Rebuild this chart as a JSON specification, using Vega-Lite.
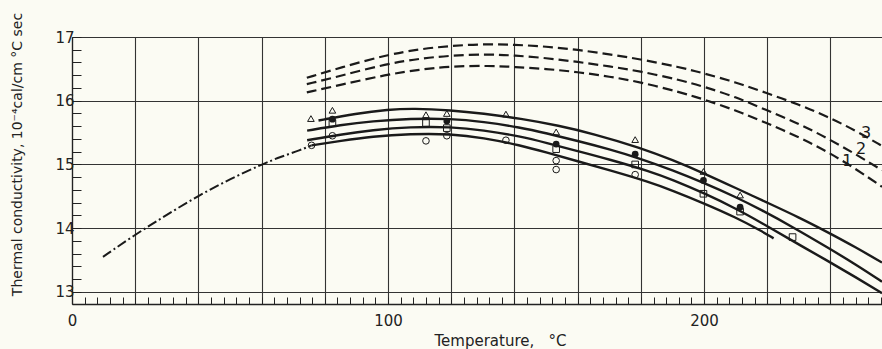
{
  "$schema": "https://vega.github.io/schema/vega-lite/v6.json",
  "width": 810,
  "height": 267,
  "autosize": {"type": "none"},
  "padding": {"left": 72, "top": 37, "right": 0, "bottom": 45},
  "background": "#fbfbf3",
  "config": {
    "view": {"stroke": null},
    "axis": {"labelFont": "DejaVu Sans", "titleFont": "DejaVu Sans", "labelColor": "#222", "titleColor": "#222", "titleFontWeight": "normal", "domainColor": "#222", "tickColor": "#222", "gridColor": "#333", "gridWidth": 1.1, "domainWidth": 1.3, "tickWidth": 1}
  },
  "datasets": {
    "lines": [
      {"s": "m", "x": 9.8, "y": 13.55}, {"s": "m", "x": 20, "y": 13.9}, {"s": "m", "x": 30, "y": 14.21}, {"s": "m", "x": 40, "y": 14.51}, {"s": "m", "x": 50, "y": 14.77}, {"s": "m", "x": 60, "y": 15.0}, {"s": "m", "x": 66, "y": 15.12}, {"s": "m", "x": 72, "y": 15.22}, {"s": "m", "x": 75.8, "y": 15.3},
      {"s": "c1", "x": 78, "y": 15.69}, {"s": "c1", "x": 90, "y": 15.8}, {"s": "c1", "x": 100, "y": 15.86}, {"s": "c1", "x": 108, "y": 15.88}, {"s": "c1", "x": 120, "y": 15.85}, {"s": "c1", "x": 130, "y": 15.8}, {"s": "c1", "x": 142, "y": 15.72}, {"s": "c1", "x": 154, "y": 15.61}, {"s": "c1", "x": 165, "y": 15.48}, {"s": "c1", "x": 180, "y": 15.26}, {"s": "c1", "x": 190, "y": 15.07}, {"s": "c1", "x": 200, "y": 14.86}, {"s": "c1", "x": 210, "y": 14.63}, {"s": "c1", "x": 220, "y": 14.4}, {"s": "c1", "x": 230, "y": 14.17}, {"s": "c1", "x": 239, "y": 13.94}, {"s": "c1", "x": 248, "y": 13.7}, {"s": "c1", "x": 256.3, "y": 13.46},
      {"s": "c2", "x": 74.4, "y": 15.53}, {"s": "c2", "x": 85, "y": 15.62}, {"s": "c2", "x": 95, "y": 15.68}, {"s": "c2", "x": 107, "y": 15.72}, {"s": "c2", "x": 120, "y": 15.72}, {"s": "c2", "x": 130, "y": 15.67}, {"s": "c2", "x": 142, "y": 15.58}, {"s": "c2", "x": 150, "y": 15.49}, {"s": "c2", "x": 160, "y": 15.37}, {"s": "c2", "x": 170, "y": 15.24}, {"s": "c2", "x": 180, "y": 15.09}, {"s": "c2", "x": 190, "y": 14.91}, {"s": "c2", "x": 200, "y": 14.71}, {"s": "c2", "x": 210, "y": 14.49}, {"s": "c2", "x": 218, "y": 14.29}, {"s": "c2", "x": 228, "y": 14.02}, {"s": "c2", "x": 239, "y": 13.7}, {"s": "c2", "x": 248, "y": 13.43}, {"s": "c2", "x": 256.3, "y": 13.16},
      {"s": "c3", "x": 74.4, "y": 15.38}, {"s": "c3", "x": 85, "y": 15.47}, {"s": "c3", "x": 95, "y": 15.54}, {"s": "c3", "x": 107, "y": 15.59}, {"s": "c3", "x": 120, "y": 15.59}, {"s": "c3", "x": 130, "y": 15.54}, {"s": "c3", "x": 142, "y": 15.44}, {"s": "c3", "x": 150, "y": 15.34}, {"s": "c3", "x": 160, "y": 15.21}, {"s": "c3", "x": 170, "y": 15.08}, {"s": "c3", "x": 183, "y": 14.89}, {"s": "c3", "x": 190, "y": 14.76}, {"s": "c3", "x": 200, "y": 14.55}, {"s": "c3", "x": 210, "y": 14.31}, {"s": "c3", "x": 218, "y": 14.09}, {"s": "c3", "x": 228, "y": 13.8}, {"s": "c3", "x": 239, "y": 13.49}, {"s": "c3", "x": 248, "y": 13.23}, {"s": "c3", "x": 256.3, "y": 12.98},
      {"s": "c4", "x": 75.8, "y": 15.3}, {"s": "c4", "x": 85, "y": 15.37}, {"s": "c4", "x": 95, "y": 15.44}, {"s": "c4", "x": 107, "y": 15.48}, {"s": "c4", "x": 120, "y": 15.48}, {"s": "c4", "x": 130, "y": 15.42}, {"s": "c4", "x": 142, "y": 15.3}, {"s": "c4", "x": 150, "y": 15.19}, {"s": "c4", "x": 160, "y": 15.05}, {"s": "c4", "x": 170, "y": 14.91}, {"s": "c4", "x": 183, "y": 14.72}, {"s": "c4", "x": 190, "y": 14.59}, {"s": "c4", "x": 200, "y": 14.39}, {"s": "c4", "x": 210, "y": 14.17}, {"s": "c4", "x": 218, "y": 13.96}, {"s": "c4", "x": 222, "y": 13.84},
      {"s": "d3", "x": 74.3, "y": 16.36}, {"s": "d3", "x": 85, "y": 16.52}, {"s": "d3", "x": 99.6, "y": 16.72}, {"s": "d3", "x": 110, "y": 16.81}, {"s": "d3", "x": 119.6, "y": 16.86}, {"s": "d3", "x": 130, "y": 16.89}, {"s": "d3", "x": 140, "y": 16.88}, {"s": "d3", "x": 150, "y": 16.85}, {"s": "d3", "x": 160, "y": 16.8}, {"s": "d3", "x": 170, "y": 16.73}, {"s": "d3", "x": 180, "y": 16.65}, {"s": "d3", "x": 192, "y": 16.53}, {"s": "d3", "x": 200, "y": 16.43}, {"s": "d3", "x": 210, "y": 16.29}, {"s": "d3", "x": 219.3, "y": 16.13}, {"s": "d3", "x": 230, "y": 15.94}, {"s": "d3", "x": 239.1, "y": 15.75}, {"s": "d3", "x": 248, "y": 15.53}, {"s": "d3", "x": 256.3, "y": 15.29},
      {"s": "d2", "x": 74.3, "y": 16.26}, {"s": "d2", "x": 85, "y": 16.39}, {"s": "d2", "x": 99.6, "y": 16.58}, {"s": "d2", "x": 110, "y": 16.66}, {"s": "d2", "x": 119.6, "y": 16.71}, {"s": "d2", "x": 132, "y": 16.73}, {"s": "d2", "x": 140, "y": 16.71}, {"s": "d2", "x": 150, "y": 16.67}, {"s": "d2", "x": 160, "y": 16.61}, {"s": "d2", "x": 170, "y": 16.54}, {"s": "d2", "x": 180, "y": 16.46}, {"s": "d2", "x": 192, "y": 16.33}, {"s": "d2", "x": 200, "y": 16.22}, {"s": "d2", "x": 210, "y": 16.06}, {"s": "d2", "x": 219.3, "y": 15.86}, {"s": "d2", "x": 230, "y": 15.64}, {"s": "d2", "x": 239.1, "y": 15.41}, {"s": "d2", "x": 248, "y": 15.16}, {"s": "d2", "x": 256.3, "y": 14.91},
      {"s": "d1", "x": 74.3, "y": 16.13}, {"s": "d1", "x": 85, "y": 16.25}, {"s": "d1", "x": 99.6, "y": 16.41}, {"s": "d1", "x": 110, "y": 16.49}, {"s": "d1", "x": 119.6, "y": 16.54}, {"s": "d1", "x": 132, "y": 16.55}, {"s": "d1", "x": 140, "y": 16.53}, {"s": "d1", "x": 150, "y": 16.5}, {"s": "d1", "x": 160, "y": 16.45}, {"s": "d1", "x": 170, "y": 16.38}, {"s": "d1", "x": 180, "y": 16.29}, {"s": "d1", "x": 192, "y": 16.14}, {"s": "d1", "x": 200, "y": 16.02}, {"s": "d1", "x": 210, "y": 15.85}, {"s": "d1", "x": 219.3, "y": 15.66}, {"s": "d1", "x": 230, "y": 15.43}, {"s": "d1", "x": 239.1, "y": 15.2}, {"s": "d1", "x": 248, "y": 14.93}, {"s": "d1", "x": 256.3, "y": 14.65}
    ],
    "points": [
      {"m": "triangle", "x": 75.6, "y": 15.72}, {"m": "circle", "x": 75.8, "y": 15.3},
      {"m": "triangle", "x": 82.4, "y": 15.85}, {"m": "filled", "x": 82.4, "y": 15.71}, {"m": "square", "x": 82.4, "y": 15.65}, {"m": "circle", "x": 82.4, "y": 15.45},
      {"m": "triangle", "x": 112, "y": 15.78}, {"m": "square", "x": 112, "y": 15.65}, {"m": "circle", "x": 112, "y": 15.37},
      {"m": "triangle", "x": 118.6, "y": 15.8}, {"m": "filled", "x": 118.6, "y": 15.68}, {"m": "square", "x": 118.6, "y": 15.57}, {"m": "circle", "x": 118.6, "y": 15.45},
      {"m": "triangle", "x": 137.3, "y": 15.79}, {"m": "circle", "x": 137.3, "y": 15.38},
      {"m": "triangle", "x": 153.2, "y": 15.51}, {"m": "filled", "x": 153.2, "y": 15.32}, {"m": "square", "x": 153.2, "y": 15.24}, {"m": "circle", "x": 153.2, "y": 15.06}, {"m": "circle", "x": 153.2, "y": 14.92},
      {"m": "triangle", "x": 178.2, "y": 15.39}, {"m": "filled", "x": 178.2, "y": 15.16}, {"m": "square", "x": 178.2, "y": 15.0}, {"m": "circle", "x": 178.2, "y": 14.84},
      {"m": "triangle", "x": 199.8, "y": 14.89}, {"m": "filled", "x": 199.8, "y": 14.75}, {"m": "square", "x": 199.8, "y": 14.54},
      {"m": "triangle", "x": 211.4, "y": 14.52}, {"m": "filled", "x": 211.4, "y": 14.33}, {"m": "square", "x": 211.4, "y": 14.26},
      {"m": "square", "x": 228, "y": 13.86}
    ],
    "labels": [
      {"t": "3", "x": 251.3, "y": 15.49}, {"t": "2", "x": 249.7, "y": 15.25}, {"t": "1", "x": 245.3, "y": 15.06}
    ]
  },
  "encoding": {
    "x": {"field": "x", "type": "quantitative", "scale": {"domain": [0, 256.3], "nice": false, "zero": false},
      "axis": {"values": [0,4,8,12,16,20,24,28,32,36,40,44,48,52,56,60,64,68,72,76,80,84,88,92,96,100,104,108,112,116,120,124,128,132,136,140,144,148,152,156,160,164,168,172,176,180,184,188,192,196,200,204,208,212,216,220,224,228,232,236,240,244,248,252,256],
        "labelExpr": "datum.value % 100 == 0 ? datum.label : ''", "labelFontSize": 15, "labelPadding": 16, "labelFlush": false,
        "tickSize": -7, "grid": true, "gridOpacity": {"condition": {"test": "datum.value % 20 == 0", "value": 1}, "value": 0},
        "title": "Temperature,\u00a0\u00a0 °C", "titleFontSize": 15, "titleX": 428, "titleY": 29}},
    "y": {"field": "y", "type": "quantitative", "scale": {"domain": [12.81, 17], "nice": false, "zero": false},
      "axis": {"values": [13,13.2,13.4,13.6,13.8,14,14.2,14.4,14.6,14.8,15,15.2,15.4,15.6,15.8,16,16.2,16.4,16.6,16.8,17],
        "labelExpr": "abs(datum.value - round(datum.value)) < 0.001 ? format(datum.value, '.0f') : ''", "labelFontSize": 15, "labelPadding": 7, "labelFlush": false,
        "tickSize": -9, "grid": true, "gridOpacity": {"condition": {"test": "abs(datum.value - round(datum.value)) < 0.001", "value": 1}, "value": 0},
        "title": "Thermal conductivity, 10⁻⁴cal/cm °C sec", "titleFontSize": 14, "titleX": -48, "titleY": 117}}
  },
  "layer": [
    {"data": {"name": "lines"}, "transform": [{"filter": "datum.s == 'm'"}],
      "mark": {"type": "line", "color": "#1a1a1a", "strokeWidth": 2, "strokeDash": [10, 3, 2, 3], "interpolate": "basis", "clip": true},
      "encoding": {"detail": {"field": "s"}}},
    {"data": {"name": "lines"}, "transform": [{"filter": "datum.s[0] == 'c'"}],
      "mark": {"type": "line", "color": "#1a1a1a", "strokeWidth": 2.4, "interpolate": "basis", "clip": true},
      "encoding": {"detail": {"field": "s"}}},
    {"data": {"name": "lines"}, "transform": [{"filter": "datum.s[0] == 'd'"}],
      "mark": {"type": "line", "color": "#1a1a1a", "strokeWidth": 2.2, "strokeDash": [10, 5], "interpolate": "basis", "clip": true},
      "encoding": {"detail": {"field": "s"}}},
    {"data": {"name": "points"}, "transform": [{"filter": "datum.m != 'filled'"}],
      "mark": {"type": "point", "filled": false, "stroke": "#1a1a1a", "strokeWidth": 1, "size": 44, "opacity": 1},
      "encoding": {"shape": {"field": "m", "type": "nominal", "scale": {"domain": ["triangle", "square", "circle"], "range": ["triangle-up", "square", "circle"]}, "legend": null}}},
    {"data": {"name": "points"}, "transform": [{"filter": "datum.m == 'filled'"}],
      "mark": {"type": "point", "filled": true, "fill": "#1a1a1a", "shape": "circle", "size": 46, "opacity": 1}},
    {"data": {"name": "labels"},
      "mark": {"type": "text", "font": "DejaVu Sans", "fontSize": 16, "color": "#1a1a1a", "align": "center", "baseline": "middle"},
      "encoding": {"text": {"field": "t"}}}
  ]
}
